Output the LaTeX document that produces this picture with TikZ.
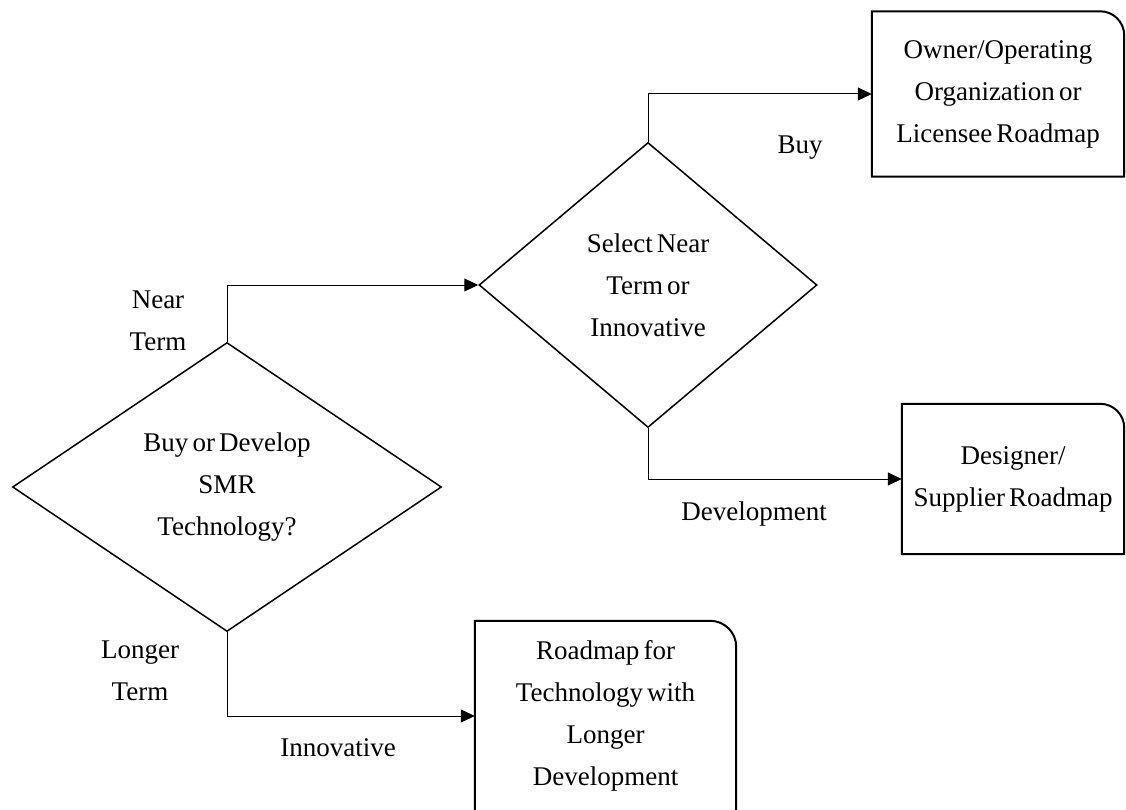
\documentclass[tikz,border=0pt]{standalone}
\usepackage{fontspec}
\setmainfont{Liberation Serif}[WordSpace=0.6]
\usetikzlibrary{shapes.geometric,arrows.meta}
\tikzset{
  txt/.style={font=\fontsize{27}{42}\selectfont},
  dec/.style={diamond,draw,line width=1.5pt,inner sep=0pt,align=center,txt},
  roadbox/.style={rectangle,draw=none,inner sep=0pt,align=center,txt},
  lbl/.style={inner sep=0pt,align=center,txt},
  conn/.style={line width=1pt,-{Triangle[length=14pt,width=13pt]}},
  boxline/.style={line width=2pt},
}
\begin{document}
\begin{tikzpicture}[x=1pt,y=-1pt]
\clip (0,0) rectangle (1126,810);
\fill[white] (0,0) rectangle (1126,810);
% decisions
\node[dec,minimum width=429pt,minimum height=289pt] (d1) at (227,487) {Buy or Develop\\SMR\\Technology?};
\node[dec,minimum width=338pt,minimum height=285pt] (d2) at (648,285) {Select Near\\Term or\\Innovative};
% boxes
\node[roadbox,minimum width=252pt,minimum height=165pt] (b1) at (998,94) {Owner/Operating\\Organization or\\Licensee Roadmap};
\node[roadbox,minimum width=222pt,minimum height=150pt] (b2) at (1013,479) {Designer/\\Supplier Roadmap};
\node[roadbox,minimum width=261pt,minimum height=190pt] (b3) at (605.5,716) {Roadmap for\\Technology with\\Longer\\Development};
% box outlines (rounded top-right corner only)
\draw[boxline] (b1.south east) -- (b1.south west) -- (b1.north west) -- ([xshift=-24pt]b1.north east) arc[start angle=90,end angle=0,radius=24pt] -- cycle;
\draw[boxline] (b2.south east) -- (b2.south west) -- (b2.north west) -- ([xshift=-24pt]b2.north east) arc[start angle=90,end angle=0,radius=24pt] -- cycle;
\draw[boxline] ([yshift=-30pt]b3.south west) -- (b3.north west) -- ([xshift=-26pt]b3.north east) arc[start angle=90,end angle=0,radius=26pt] -- ([yshift=-30pt]b3.south east);
% connectors
\draw[conn] (d1.north) |- (d2.west);
\draw[conn] (d2.north) |- (b1.west);
\draw[conn] (d2.south) |- (b2.west);
\draw[conn] (d1.south) |- (b3.west);
% labels
\node[lbl] (lnear) at (158,321) {Near\\Term};
\node[lbl] (lbuy) at (800,148) {Buy};
\node[lbl] (ldev) at (754,514) {Development};
\node[lbl] (llong) at (140,671) {Longer\\Term};
\node[lbl] (linno) at (338,748) {Innovative};
\end{tikzpicture}
\end{document}
